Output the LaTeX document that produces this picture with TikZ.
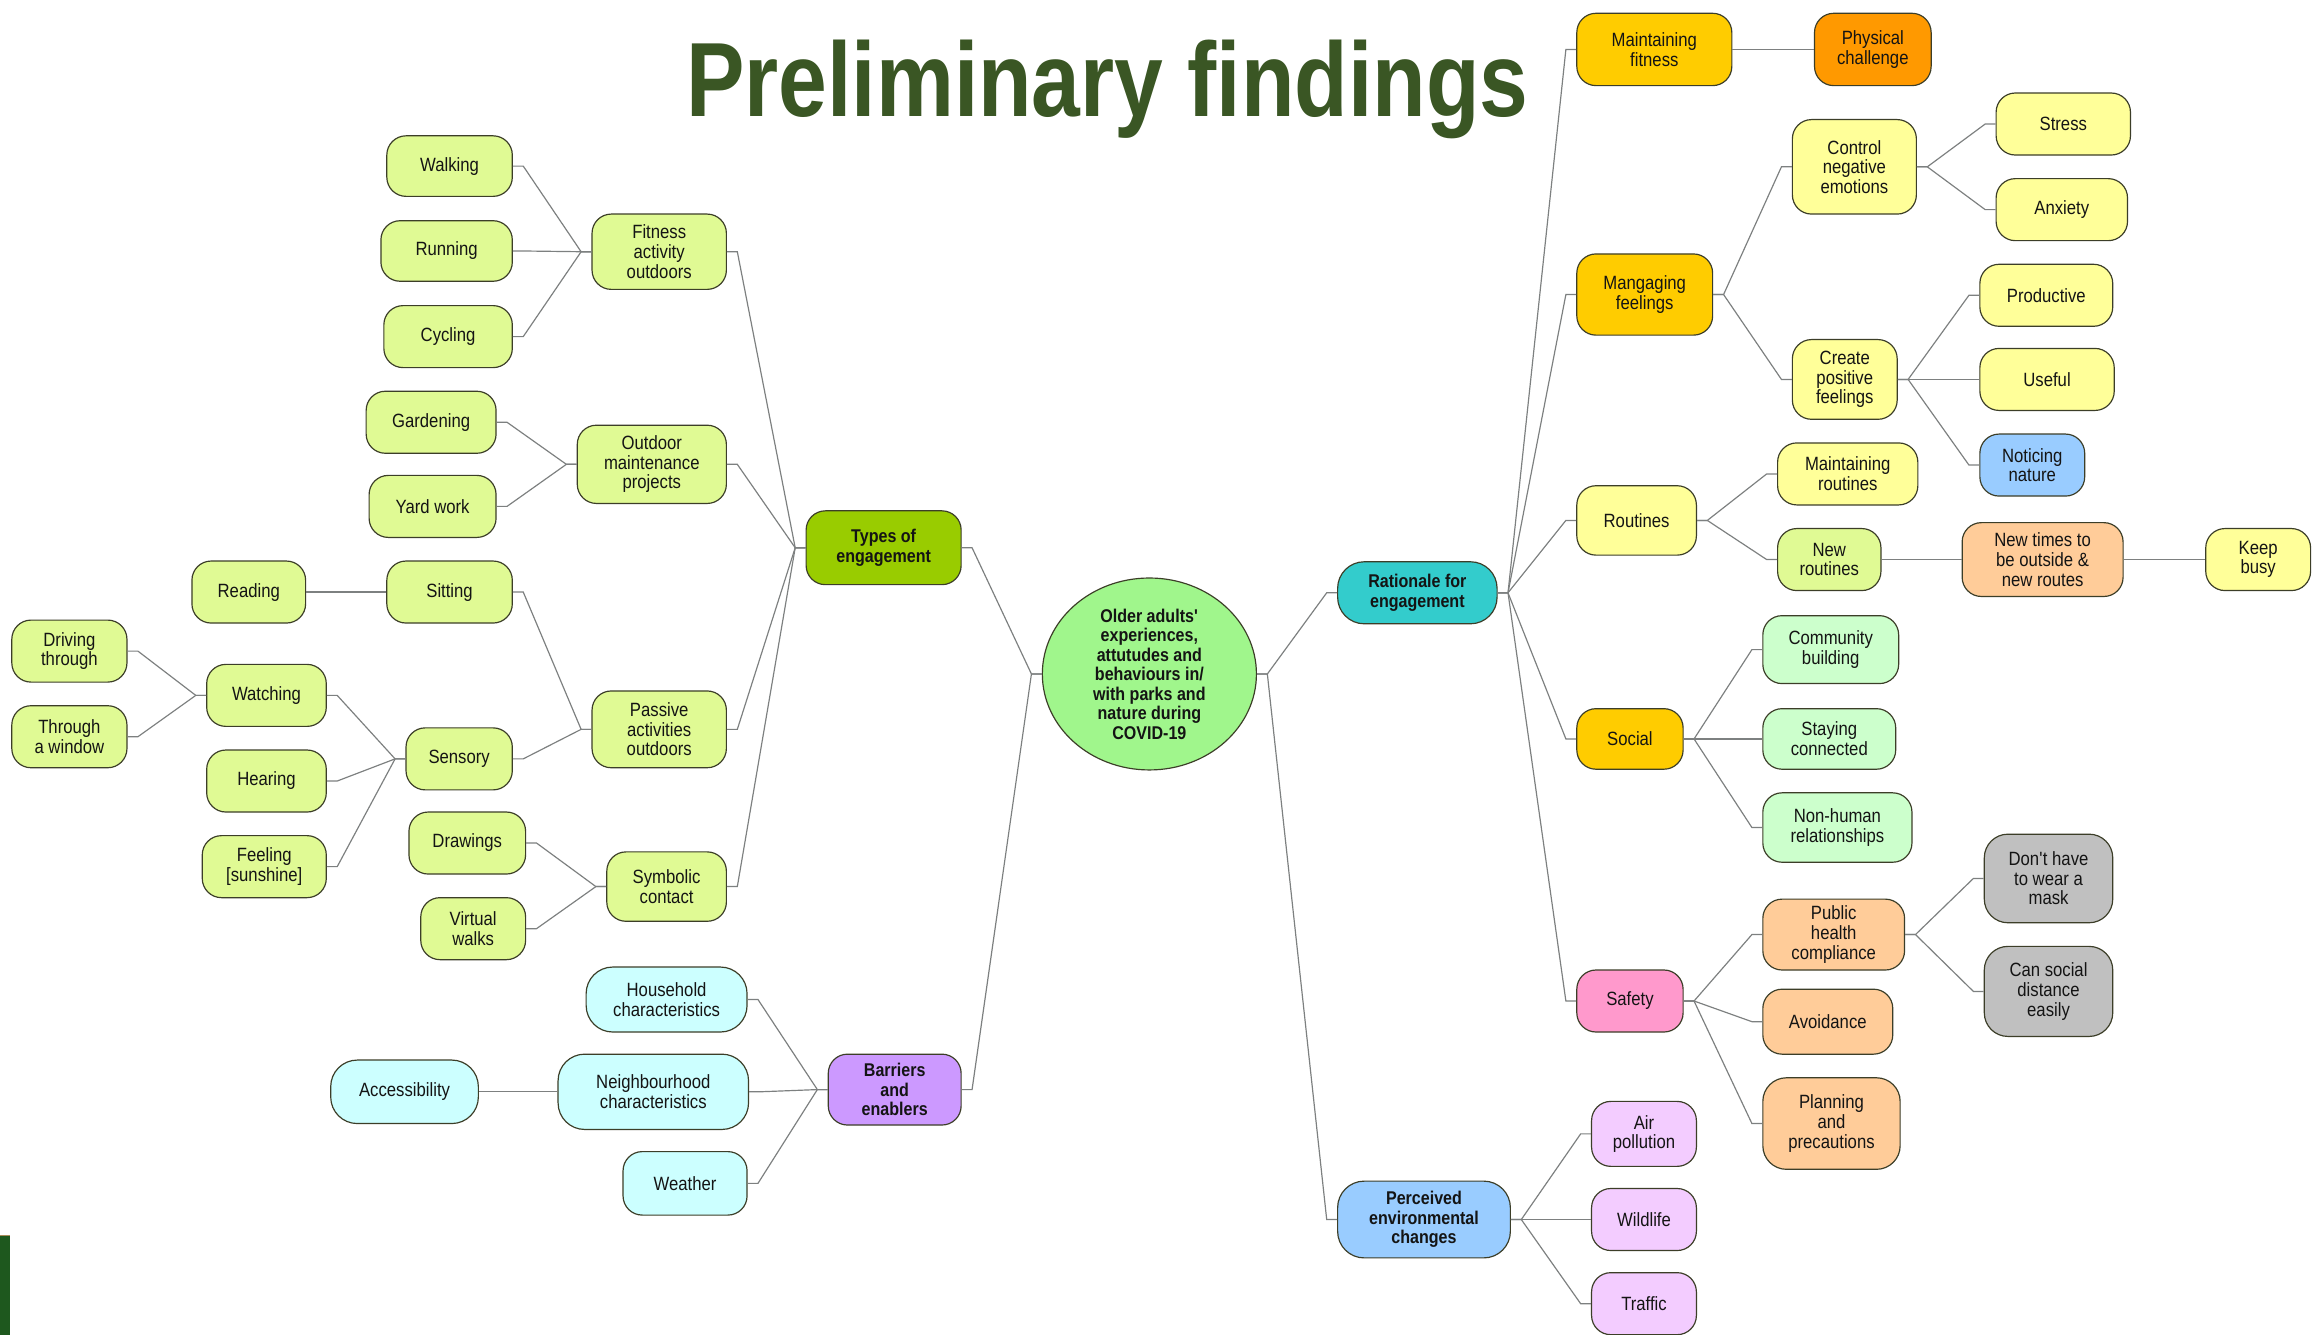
\documentclass[tikz,border=0pt]{standalone}
\usepackage{fontspec}
\setmainfont{Liberation Sans}[FakeStretch=0.87]
\newfontfamily\titlefont{Liberation Sans}[FakeStretch=0.83]
\usetikzlibrary{shapes.geometric}
\definecolor{cLime}{RGB}{224,250,148}
\definecolor{cTypes}{RGB}{153,204,0}
\definecolor{cCyan}{RGB}{204,255,255}
\definecolor{cPurple}{RGB}{204,153,255}
\definecolor{cCenter}{RGB}{160,246,140}
\definecolor{cTeal}{RGB}{51,204,204}
\definecolor{cGold}{RGB}{255,204,0}
\definecolor{cOrange}{RGB}{255,153,0}
\definecolor{cYel}{RGB}{255,255,153}
\definecolor{cLBlue}{RGB}{153,204,255}
\definecolor{cPeach}{RGB}{255,204,153}
\definecolor{cPale}{RGB}{204,255,204}
\definecolor{cPink}{RGB}{255,153,204}
\definecolor{cGray}{RGB}{192,192,192}
\definecolor{cLav}{RGB}{243,204,255}
\definecolor{cBorder}{RGB}{60,62,40}
\definecolor{cLine}{RGB}{125,128,128}
\definecolor{cText}{RGB}{20,20,20}
\definecolor{cTitle}{RGB}{58,86,36}
\definecolor{cBar}{RGB}{30,88,30}
\newcommand\cnR[2]{\draw[conn] (#1.east) -- ++(7pt,0) -- ([xshift=-7pt]#2.west) -- (#2.west);}
\newcommand\cnL[2]{\draw[conn] (#1.west) -- ++(-7pt,0) -- ([xshift=7pt]#2.east) -- (#2.east);}
\begin{document}
\begin{tikzpicture}[x=1pt,y=-1pt,
  box/.style={draw=cBorder, line width=0.8pt, rounded corners=13pt, align=center, inner sep=1pt,
    font=\fontsize{13}{13.3}\selectfont, text=cText},
  bbox/.style={box, font=\fontsize{12.5}{13.2}\selectfont\bfseries},
  nd/.style 2 args={minimum width=#1pt, minimum height=#2pt},
  conn/.style={draw=cLine, line width=0.8pt}]
\useasboundingbox (0,0) rectangle (1568,904);
\fill[white] (0,0) rectangle (1568,904);
% title
\node[anchor=base, inner sep=0, text=cTitle, font=\titlefont\fontsize{71.5}{71.5}\selectfont\bfseries] (title) at (750,79) {Preliminary findings};
% bar
\fill[cBar] (0,837) rectangle (6.8,904);
\draw[color={rgb,255:red,170;green,140;blue,90}, line width=0.8pt] (0,836.6) -- (6.8,836.6);
% ---- left side ----
\node[box,fill=cLime,nd={85}{41}] (walk) at (304.5,112.5) {Walking};
\node[box,fill=cLime,nd={89}{41}] (run) at (302.5,170) {Running};
\node[box,fill=cLime,nd={87}{42}] (cyc) at (303.5,228) {Cycling};
\node[box,fill=cLime,nd={91}{51}] (fit) at (446.5,170.5) {Fitness\\activity\\outdoors};
\node[box,fill=cLime,nd={88}{42}] (gard) at (292,286) {Gardening};
\node[box,fill=cLime,nd={86}{42}] (yard) at (293,343) {Yard work};
\node[box,fill=cLime,nd={101}{53}] (outm) at (441.5,314.5) {Outdoor\\maintenance\\projects};
\node[box,fill=cLime,nd={77}{42}] (read) at (168.5,401) {Reading};
\node[box,fill=cLime,nd={85}{42}] (sit) at (304.5,401) {Sitting};
\node[box,fill=cLime,nd={78}{42}] (drive) at (47,441) {Driving\\through};
\node[box,fill=cLime,nd={78}{42}] (window) at (47,499) {Through\\a window};
\node[box,fill=cLime,nd={81}{42}] (watch) at (180.5,471) {Watching};
\node[box,fill=cLime,nd={81}{42}] (hear) at (180.5,529) {Hearing};
\node[box,fill=cLime,nd={84}{42}] (feel) at (179,587) {Feeling\\{[sunshine]}};
\node[box,fill=cLime,nd={72}{42}] (sens) at (311,514) {Sensory};
\node[box,fill=cLime,nd={91}{52}] (pass) at (446.5,494) {Passive\\activities\\outdoors};
\node[box,fill=cLime,nd={79}{42}] (drw) at (316.5,571) {Drawings};
\node[box,fill=cLime,nd={71}{42}] (virt) at (320.5,629) {Virtual\\walks};
\node[box,fill=cLime,nd={81}{47}] (symb) at (451.5,600.5) {Symbolic\\contact};
\node[bbox,fill=cTypes,nd={105}{50}] (types) at (598.5,371) {Types of\\engagement};
\node[box,fill=cCyan,rounded corners=18pt,nd={109}{44}] (house) at (451.5,677) {Household\\characteristics};
\node[box,fill=cCyan,rounded corners=18pt,nd={129}{51}] (neigh) at (442.5,739.5) {Neighbourhood\\characteristics};
\node[box,fill=cCyan,rounded corners=18pt,nd={100}{43}] (access) at (274,739.5) {Accessibility};
\node[box,fill=cCyan,nd={84}{43}] (weather) at (464,801.5) {Weather};
\node[bbox,fill=cPurple,nd={90}{48}] (barr) at (606,738) {Barriers\\and\\enablers};
% center
\node[ellipse, draw=cBorder, line width=0.8pt, fill=cCenter, minimum width=145pt, minimum height=130pt, inner sep=0pt,
  align=center, text=cText, font=\fontsize{12.5}{13.2}\selectfont\bfseries] (ctr) at (778.5,456.5)
  {Older adults\textquotesingle\\experiences,\\attutudes and\\behaviours in/\\with parks and\\nature during\\COVID-19};
% ---- right side ----
\node[bbox,fill=cTeal,rounded corners=18pt,nd={108}{42}] (rat) at (960,401.5) {Rationale for\\engagement};
\node[box,fill=cGold,nd={105}{49}] (mfit) at (1120.5,33.5) {Maintaining\\fitness};
\node[box,fill=cOrange,nd={79}{49}] (phys) at (1268.5,33.5) {Physical\\challenge};
\node[box,fill=cGold,nd={92}{55}] (mfeel) at (1114,199.5) {Mangaging\\feelings};
\node[box,fill=cYel,nd={84}{64}] (ctrl) at (1256,113) {Control\\negative\\emotions};
\node[box,fill=cYel,nd={91}{42}] (stress) at (1397.5,84) {Stress};
\node[box,fill=cYel,nd={89}{42}] (anx) at (1396.5,142) {Anxiety};
\node[box,fill=cYel,nd={71}{54}] (create) at (1249.5,257) {Create\\positive\\feelings};
\node[box,fill=cYel,nd={90}{42}] (prod) at (1386,200) {Productive};
\node[box,fill=cYel,nd={91}{42}] (useful) at (1386.5,257) {Useful};
\node[box,fill=cLBlue,nd={71}{42}] (notice) at (1376.5,315) {Noticing\\nature};
\node[box,fill=cYel,nd={81}{47}] (rout) at (1108.5,352.5) {Routines};
\node[box,fill=cYel,nd={95}{42}] (mrout) at (1251.5,321) {Maintaining\\routines};
\node[box,fill=cLime,nd={70}{42}] (nrout) at (1239,379) {New\\routines};
\node[box,fill=cPeach,nd={109}{50}] (ntimes) at (1383.5,379) {New times to\\be outside \&\\new routes};
\node[box,fill=cYel,nd={71}{42}] (busy) at (1529.5,379) {Keep\\busy};
\node[box,fill=cGold,nd={72}{41}] (social) at (1104,500.5) {Social};
\node[box,fill=cPale,nd={92}{46}] (comm) at (1240,440) {Community\\building};
\node[box,fill=cPale,nd={90}{41}] (stay) at (1239,500.5) {Staying\\connected};
\node[box,fill=cPale,nd={101}{47}] (nonh) at (1244.5,560.5) {Non-human\\relationships};
\node[box,fill=cPink,nd={72}{42}] (safety) at (1104,678) {Safety};
\node[box,fill=cPeach,nd={96}{48}] (pub) at (1242,633) {Public\\health\\compliance};
\node[box,fill=cGray,rounded corners=16pt,nd={87}{60}] (dont) at (1387.5,595) {Don\textquotesingle t have\\to wear a\\mask};
\node[box,fill=cGray,rounded corners=16pt,nd={87}{61}] (cans) at (1387.5,671.5) {Can social\\distance\\easily};
\node[box,fill=cPeach,nd={88}{44}] (avoid) at (1238,692) {Avoidance};
\node[box,fill=cPeach,rounded corners=16pt,nd={93}{62}] (plan) at (1240.5,761) {Planning\\and\\precautions};
\node[bbox,fill=cLBlue,rounded corners=18pt,nd={117}{52}] (perc) at (964.5,826) {Perceived\\environmental\\changes};
\node[box,fill=cLav,nd={71}{44}] (air) at (1113.5,768) {Air\\pollution};
\node[box,fill=cLav,nd={71}{42}] (wild) at (1113.5,826) {Wildlife};
\node[box,fill=cLav,nd={71}{42}] (traffic) at (1113.5,883) {Traffic};
% ---- connectors left ----
\cnL{ctr}{types} \cnL{ctr}{barr}
\cnL{types}{fit} \cnL{types}{outm} \cnL{types}{pass} \cnL{types}{symb}
\cnL{fit}{walk} \cnL{fit}{run} \cnL{fit}{cyc}
\cnL{outm}{gard} \cnL{outm}{yard}
\cnL{pass}{sit} \cnL{pass}{sens}
\cnL{sit}{read}
\cnL{sens}{watch} \cnL{sens}{hear} \cnL{sens}{feel}
\cnL{watch}{drive} \cnL{watch}{window}
\cnL{symb}{drw} \cnL{symb}{virt}
\cnL{barr}{house} \cnL{barr}{neigh} \cnL{barr}{weather}
\cnL{neigh}{access}
% ---- connectors right ----
\cnR{ctr}{rat} \cnR{ctr}{perc}
\cnR{rat}{mfit} \cnR{rat}{mfeel} \cnR{rat}{rout} \cnR{rat}{social} \cnR{rat}{safety}
\cnR{mfit}{phys}
\cnR{mfeel}{ctrl} \cnR{mfeel}{create}
\cnR{ctrl}{stress} \cnR{ctrl}{anx}
\cnR{create}{prod} \cnR{create}{useful} \cnR{create}{notice}
\cnR{rout}{mrout} \cnR{rout}{nrout}
\cnR{nrout}{ntimes} \cnR{ntimes}{busy}
\cnR{social}{comm} \cnR{social}{stay} \cnR{social}{nonh}
\cnR{safety}{pub} \cnR{safety}{avoid} \cnR{safety}{plan}
\cnR{pub}{dont} \cnR{pub}{cans}
\cnR{perc}{air} \cnR{perc}{wild} \cnR{perc}{traffic}
\end{tikzpicture}
\end{document}
